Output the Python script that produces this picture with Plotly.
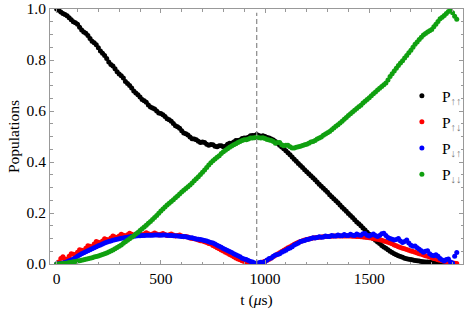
import plotly.graph_objects as go

t_us = list(range(0, 1921, 10))

p_upup = [
    1.000, 0.995, 0.988, 0.982, 0.978, 0.974, 0.966, 0.958, 0.950, 0.946,
    0.940, 0.928, 0.918, 0.910, 0.905, 0.896, 0.884, 0.874, 0.868, 0.860,
    0.848, 0.835, 0.826, 0.818, 0.806, 0.792, 0.782, 0.776, 0.766, 0.754,
    0.745, 0.738, 0.729, 0.716, 0.708, 0.700, 0.690, 0.678, 0.671, 0.664,
    0.655, 0.645, 0.640, 0.634, 0.624, 0.616, 0.612, 0.608, 0.600, 0.592,
    0.590, 0.585, 0.578, 0.570, 0.566, 0.560, 0.551, 0.542, 0.538, 0.532,
    0.523, 0.514, 0.511, 0.506, 0.498, 0.491, 0.490, 0.487, 0.481, 0.476,
    0.478, 0.476, 0.470, 0.466, 0.469, 0.468, 0.462, 0.460, 0.464, 0.464,
    0.460, 0.462, 0.470, 0.474, 0.474, 0.478, 0.484, 0.484, 0.486, 0.492,
    0.494, 0.494, 0.497, 0.503, 0.504, 0.504, 0.508, 0.504, 0.501, 0.503,
    0.500, 0.496, 0.494, 0.490, 0.486, 0.480, 0.474, 0.466, 0.459, 0.452,
    0.444, 0.436, 0.428, 0.420, 0.411, 0.403, 0.394, 0.386, 0.378, 0.370,
    0.362, 0.354, 0.346, 0.338, 0.330, 0.322, 0.313, 0.305, 0.297, 0.289,
    0.281, 0.272, 0.264, 0.256, 0.248, 0.240, 0.231, 0.223, 0.215, 0.207,
    0.198, 0.190, 0.182, 0.174, 0.165, 0.158, 0.150, 0.141, 0.133, 0.125,
    0.117, 0.108, 0.100, 0.093, 0.086, 0.080, 0.073, 0.067, 0.062, 0.056,
    0.050, 0.045, 0.040, 0.036, 0.032, 0.029, 0.026, 0.023, 0.021, 0.019,
    0.018, 0.016, 0.014, 0.013, 0.012, 0.010, 0.009, 0.008, 0.008, 0.007,
    0.006, 0.005, 0.005, 0.004, 0.004, 0.003, 0.003, 0.002, 0.002, 0.001,
    None, None, None,
]

p_updown = [
    0.000, 0.008, 0.022, 0.028, 0.020, 0.018, 0.030, 0.040, 0.038, 0.036,
    0.046, 0.056, 0.054, 0.052, 0.062, 0.072, 0.070, 0.068, 0.078, 0.088,
    0.085, 0.082, 0.090, 0.099, 0.096, 0.094, 0.102, 0.110, 0.106, 0.104,
    0.110, 0.117, 0.113, 0.110, 0.115, 0.121, 0.117, 0.113, 0.117, 0.122,
    0.118, 0.114, 0.118, 0.123, 0.119, 0.115, 0.118, 0.122, 0.118, 0.114,
    0.117, 0.120, 0.116, 0.112, 0.115, 0.118, 0.114, 0.110, 0.112, 0.114,
    0.110, 0.107, 0.108, 0.106, 0.102, 0.100, 0.099, 0.097, 0.094, 0.091,
    0.090, 0.087, 0.084, 0.080, 0.078, 0.073, 0.069, 0.064, 0.060, 0.055,
    0.051, 0.046, 0.042, 0.037, 0.033, 0.028, 0.024, 0.020, 0.017, 0.013,
    0.010, 0.008, 0.006, 0.004, 0.003, 0.002, 0.002, 0.003, 0.005, 0.008,
    0.011, 0.015, 0.019, 0.024, 0.029, 0.034, 0.039, 0.044, 0.049, 0.054,
    0.059, 0.064, 0.068, 0.073, 0.077, 0.081, 0.085, 0.088, 0.091, 0.094,
    0.096, 0.098, 0.100, 0.102, 0.103, 0.104, 0.105, 0.106, 0.107, 0.108,
    0.108, 0.109, 0.109, 0.110, 0.110, 0.110, 0.110, 0.110, 0.110, 0.110,
    0.110, 0.110, 0.109, 0.109, 0.108, 0.108, 0.107, 0.106, 0.105, 0.104,
    0.103, 0.102, 0.100, 0.098, 0.097, 0.095, 0.093, 0.090, 0.088, 0.085,
    0.082, 0.079, 0.075, 0.072, 0.068, 0.065, 0.062, 0.060, 0.057, 0.054,
    0.051, 0.049, 0.046, 0.043, 0.040, 0.038, 0.035, 0.032, 0.030, 0.027,
    0.025, 0.022, 0.020, 0.017, 0.015, 0.013, 0.011, 0.009, 0.007, 0.006,
    0.004, 0.003, 0.002,
]

p_downup = [
    0.000, 0.001, 0.002, 0.004, 0.006, 0.009, 0.013, 0.016, 0.020, 0.025,
    0.030, 0.035, 0.040, 0.044, 0.048, 0.052, 0.056, 0.060, 0.064, 0.068,
    0.072, 0.075, 0.078, 0.082, 0.085, 0.088, 0.090, 0.093, 0.095, 0.097,
    0.099, 0.101, 0.102, 0.104, 0.105, 0.107, 0.108, 0.109, 0.110, 0.111,
    0.111, 0.112, 0.112, 0.113, 0.113, 0.113, 0.113, 0.114, 0.114, 0.114,
    0.113, 0.114, 0.114, 0.113, 0.112, 0.112, 0.111, 0.111, 0.110, 0.109,
    0.108, 0.108, 0.107, 0.105, 0.103, 0.103, 0.100, 0.098, 0.097, 0.096,
    0.094, 0.092, 0.090, 0.087, 0.084, 0.082, 0.078, 0.074, 0.070, 0.066,
    0.061, 0.057, 0.053, 0.049, 0.045, 0.040, 0.036, 0.032, 0.028, 0.023,
    0.020, 0.018, 0.014, 0.010, 0.008, 0.004, 0.002, 0.005, 0.007, 0.004,
    0.010, 0.016, 0.022, 0.024, 0.030, 0.035, 0.037, 0.040, 0.046, 0.050,
    0.054, 0.060, 0.063, 0.068, 0.075, 0.078, 0.082, 0.088, 0.090, 0.092,
    0.096, 0.097, 0.100, 0.103, 0.102, 0.104, 0.107, 0.105, 0.106, 0.110,
    0.108, 0.108, 0.112, 0.110, 0.110, 0.114, 0.111, 0.111, 0.116, 0.112,
    0.112, 0.117, 0.113, 0.112, 0.118, 0.114, 0.113, 0.119, 0.120, 0.113,
    0.110, 0.114, 0.118, 0.112, 0.108, 0.112, 0.119, 0.121, 0.112, 0.104,
    0.100, 0.097, 0.094, 0.096, 0.100, 0.090, 0.084, 0.088, 0.094, 0.082,
    0.074, 0.070, 0.071, 0.064, 0.058, 0.052, 0.046, 0.050, 0.052, 0.040,
    0.034, 0.032, 0.036, 0.030, 0.022, 0.016, 0.012, 0.018, 0.020, 0.008,
    0.004, 0.030, 0.045,
]

p_downdown = [
    0.000, 0.000, 0.001, 0.002, 0.003, 0.004, 0.006, 0.007, 0.009, 0.010,
    0.012, 0.013, 0.015, 0.017, 0.019, 0.021, 0.023, 0.025, 0.027, 0.029,
    0.031, 0.034, 0.037, 0.040, 0.043, 0.047, 0.051, 0.055, 0.060, 0.065,
    0.070, 0.075, 0.081, 0.087, 0.093, 0.099, 0.105, 0.111, 0.118, 0.124,
    0.131, 0.138, 0.145, 0.152, 0.160, 0.167, 0.175, 0.182, 0.190, 0.199,
    0.208, 0.216, 0.224, 0.231, 0.238, 0.245, 0.252, 0.260, 0.267, 0.275,
    0.282, 0.289, 0.296, 0.303, 0.310, 0.318, 0.326, 0.334, 0.342, 0.351,
    0.360, 0.369, 0.378, 0.388, 0.397, 0.405, 0.412, 0.419, 0.425, 0.433,
    0.440, 0.446, 0.452, 0.458, 0.463, 0.468, 0.472, 0.476, 0.480, 0.484,
    0.487, 0.487, 0.490, 0.494, 0.494, 0.495, 0.498, 0.495, 0.494, 0.495,
    0.492, 0.488, 0.486, 0.484, 0.480, 0.474, 0.476, 0.476, 0.468, 0.464,
    0.466, 0.466, 0.460, 0.455, 0.455, 0.458, 0.460, 0.462, 0.465, 0.468,
    0.470, 0.474, 0.478, 0.480, 0.484, 0.490, 0.494, 0.498, 0.505, 0.510,
    0.515, 0.520, 0.526, 0.533, 0.540, 0.546, 0.553, 0.560, 0.568, 0.575,
    0.582, 0.589, 0.596, 0.603, 0.610, 0.617, 0.623, 0.631, 0.638, 0.645,
    0.652, 0.660, 0.668, 0.675, 0.682, 0.689, 0.696, 0.703, 0.710, 0.722,
    0.735, 0.746, 0.757, 0.768, 0.778, 0.788, 0.797, 0.808, 0.818, 0.828,
    0.838, 0.850, 0.862, 0.871, 0.880, 0.889, 0.898, 0.904, 0.910, 0.915,
    0.920, 0.930, 0.940, 0.951, 0.962, 0.968, 0.975, 0.982, 0.990, 0.995,
    0.985, 0.972, 0.960,
]

x_ticks = [0, 500, 1000, 1500]
y_ticks = [0.0, 0.2, 0.4, 0.6, 0.8, 1.0]
y_tick_labels = ["0.0", "0.2", "0.4", "0.6", "0.8", "1.0"]
t_marker = 960

series = [
    ("P<sub><span style='color:#777'>↑↑</span></sub>", p_upup, "black"),
    ("P<sub><span style='color:#777'>↑↓</span></sub>", p_updown, "#ff0000"),
    ("P<sub><span style='color:#777'>↓↑</span></sub>", p_downup, "#0000ff"),
    ("P<sub><span style='color:#777'>↓↓</span></sub>", p_downdown, "#10a010"),
]

FONT = "Times New Roman"
FS = 15.5

fig = go.Figure()
for i, (name, vals, col) in enumerate(series):
    fig.add_trace(go.Scatter(
        x=t_us, y=vals, mode="markers", name=name,
        marker=dict(color=col, size=5, line=dict(width=0)),
        legendgroup=f"g{i}",
    ))

fig.add_shape(type="line", x0=t_marker, x1=t_marker, xref="x", yref="y",
              y0=0, y1=0.985, line=dict(color="#888888", width=1.2, dash="5px,3px"))

axis_common = dict(
    showline=True, linecolor="#999999", linewidth=1, mirror="ticks",
    ticks="inside", ticklen=4, tickcolor="#999999", tickwidth=1,
    showgrid=False, zeroline=False,
    tickfont=dict(family=FONT, size=FS, color="black"),
)

fig.update_xaxes(
    range=[-32, 1950], tickvals=x_ticks,
    minor=dict(dtick=100, ticks="inside", ticklen=2.5, tickcolor="#999999", showgrid=False),
    title=dict(text="t (<i>μ</i>s)", font=dict(family=FONT, size=FS, color="black"), standoff=8),
    **axis_common,
)
fig.update_yaxes(
    range=[0, 1], tickvals=y_ticks, ticktext=y_tick_labels,
    minor=dict(dtick=0.05, ticks="inside", ticklen=2.5, tickcolor="#999999", showgrid=False),
    title=dict(text="Populations", font=dict(family=FONT, size=FS, color="black"), standoff=3),
    **axis_common,
)

fig.update_layout(
    width=464, height=312,
    margin=dict(l=50, r=1, t=9, b=48, autoexpand=False),
    plot_bgcolor="white", paper_bgcolor="white",
    font=dict(family=FONT, size=FS, color="black"),
    legend=dict(x=0.852, y=0.725, xanchor="left", yanchor="top",
                bgcolor="rgba(0,0,0,0)", tracegroupgap=3, itemwidth=30,
                font=dict(family=FONT, size=FS)),
    showlegend=True,
)

fig.write_html("out.html", post_script="document.body.style.margin='0';",
               config={"displayModeBar": False})
